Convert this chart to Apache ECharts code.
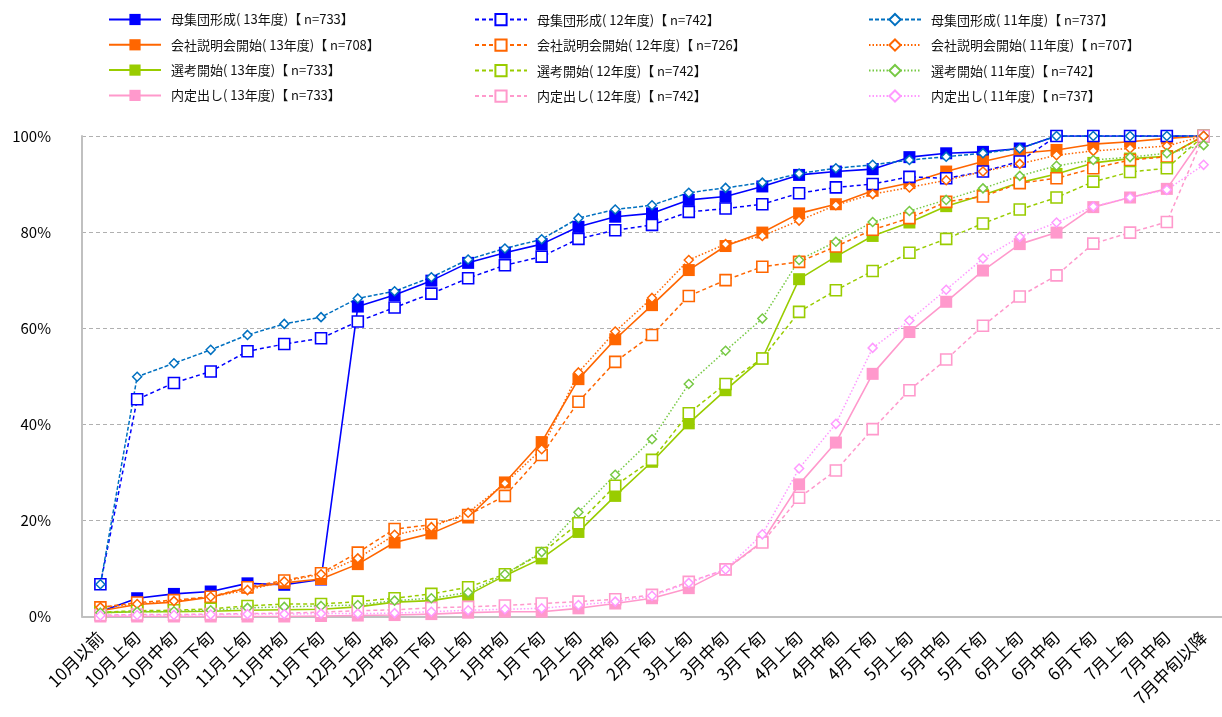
<!DOCTYPE html>
<html><head><meta charset="utf-8">
<script src="https://cdn.jsdelivr.net/npm/echarts@6/dist/echarts.min.js"></script>
<style>html,body{margin:0;padding:0;background:#fff}#c{width:1222px;height:717px}</style>
</head><body><div id="c"></div>
<script>
const categories = ['10月以前','10月上旬','10月中旬','10月下旬','11月上旬','11月中旬','11月下旬','12月上旬','12月中旬','12月下旬','1月上旬','1月中旬','1月下旬','2月上旬','2月中旬','2月下旬','3月上旬','3月中旬','3月下旬','4月上旬','4月中旬','4月下旬','5月上旬','5月中旬','5月下旬','6月上旬','6月中旬','6月下旬','7月上旬','7月中旬','7月中旬以降'];

const boshu13 = [1.0,3.8,4.7,5.2,6.9,6.6,7.7,64.5,66.9,69.9,73.6,75.7,77.5,81.1,83.2,83.9,86.7,87.4,89.5,91.9,92.6,93.1,95.6,96.4,96.7,97.4,100,100,100,100,100];
const boshu12 = [6.7,45.2,48.6,51.0,55.2,56.7,57.9,61.4,64.3,67.2,70.4,73.1,74.9,78.6,80.4,81.5,84.2,84.9,85.8,88.1,89.3,90.0,91.5,91.2,92.6,94.7,100,100,100,100,100];
const boshu11 = [6.7,49.9,52.7,55.5,58.6,60.9,62.3,66.2,67.7,70.6,74.3,76.6,78.5,82.9,84.7,85.6,88.2,89.2,90.3,92.2,93.3,94.0,95.0,95.7,96.4,97.4,100,100,100,100,100];

const setsu13 = [1.2,2.5,3.0,4.0,6.0,7.0,7.8,10.9,15.4,17.3,20.6,27.9,36.3,49.4,57.7,64.8,72.1,77.1,79.9,83.9,85.8,88.6,90.2,92.6,94.7,96.4,97.1,98.3,98.8,99.5,100];
const setsu12 = [1.9,2.9,3.4,4.1,6.1,7.5,9.0,13.3,18.2,19.1,21.1,25.1,33.6,44.7,53.0,58.6,66.7,70.0,72.8,73.8,77.0,80.5,82.9,86.3,87.4,90.2,91.2,93.3,95.0,95.7,100];
const setsu11 = [1.9,2.6,3.2,4.1,5.5,7.3,8.8,12.1,17.0,18.6,21.6,27.7,34.8,50.8,59.3,66.3,74.2,77.5,79.2,82.4,85.6,87.9,89.3,90.8,92.6,94.2,96.0,96.9,97.4,97.9,100];

const senko13 = [0.8,1.0,1.0,1.1,1.3,1.4,1.5,2.0,3.0,3.3,4.5,8.5,12.1,17.6,25.1,32.2,40.2,47.1,53.7,70.2,74.9,79.2,82.0,85.4,87.7,90.3,92.1,94.4,95.3,95.8,100];
const senko12 = [0.9,1.2,1.3,1.6,2.2,2.6,2.6,3.1,3.8,4.7,6.1,8.8,13.2,19.4,27.2,32.6,42.3,48.4,53.7,63.4,67.9,71.9,75.7,78.6,81.8,84.7,87.2,90.5,92.5,93.3,100];
const senko11 = [0.8,1.0,1.1,1.3,1.8,2.0,2.2,2.4,3.3,3.8,5.0,8.8,13.4,21.7,29.5,36.9,48.4,55.3,62.0,74.2,78.0,82.1,84.4,86.7,89.1,91.7,93.8,95.0,95.6,96.4,98.1];

const naitei13 = [0,0,0,0,0,0,0.1,0.2,0.3,0.5,0.8,1.0,1.0,1.7,2.7,3.8,5.9,9.8,15.6,27.5,36.2,50.5,59.2,65.5,72.0,77.5,79.9,85.2,87.2,89.0,100];
const naitei12 = [0.3,0.4,0.4,0.5,0.6,0.7,0.9,1.2,1.4,1.8,2.0,2.3,2.7,3.1,3.6,4.5,7.2,9.8,15.4,24.7,30.4,39.0,47.1,53.5,60.5,66.6,71.0,77.6,79.9,82.1,100];
const naitei11 = [0.2,0.3,0.3,0.4,0.5,0.5,0.6,0.6,0.7,1.0,1.3,1.5,1.7,2.4,3.1,4.3,7.0,9.8,17.1,30.8,40.1,55.9,61.6,68.0,74.5,79.0,82.0,85.3,87.2,88.8,94.0];

const yTicks = [0,20,40,60,80,100];

const names13 = ['母集団形成( 13年度)【 n=733】','会社説明会開始( 13年度)【 n=708】','選考開始( 13年度)【 n=733】','内定出し( 13年度)【 n=733】'];
const names12 = ['母集団形成( 12年度)【 n=742】','会社説明会開始( 12年度)【 n=726】','選考開始( 12年度)【 n=742】','内定出し( 12年度)【 n=742】'];
const names11 = ['母集団形成( 11年度)【 n=737】','会社説明会開始( 11年度)【 n=707】','選考開始( 11年度)【 n=742】','内定出し( 11年度)【 n=737】'];

const data13 = [boshu13, setsu13, senko13, naitei13];
const data12 = [boshu12, setsu12, senko12, naitei12];
const data11 = [boshu11, setsu11, senko11, naitei11];

const col13 = ['#0000FF','#FF6600','#99CC00','#FF99CC'];
const col12 = ['#0000FF','#FF6600','#99CC00','#FF99CC'];
const col11 = ['#0070C0','#FF6600','#77C944','#FF99FF'];
const dash11 = [[4,2],[1.5,2],[1.5,2],[1.5,2]];

const series = [];
for (let k = 0; k < 4; k++) {
  series.push({
    name: names13[k], type: 'line', data: data13[k],
    symbol: 'rect', symbolSize: 12,
    lineStyle: {color: col13[k], width: 1.6, type: 'solid'},
    itemStyle: {color: col13[k], borderColor: col13[k], borderWidth: 0},
    emphasis: {disabled: true}
  });
}
for (let k = 0; k < 4; k++) {
  series.push({
    name: names12[k], type: 'line', data: data12[k],
    symbol: 'rect', symbolSize: 11,
    lineStyle: {color: col12[k], width: 1.5, type: [4,3]},
    itemStyle: {color: '#fff', borderColor: col12[k], borderWidth: 1.6},
    emphasis: {disabled: true}
  });
}
for (let k = 0; k < 4; k++) {
  series.push({
    name: names11[k], type: 'line', data: data11[k],
    symbol: 'diamond', symbolSize: 9,
    lineStyle: {color: col11[k], width: 1.5, type: dash11[k]},
    itemStyle: {color: '#fff', borderColor: col11[k], borderWidth: 1.5},
    emphasis: {disabled: true}
  });
}

const legendBase = {
  orient: 'vertical', top: 13, padding: 0, itemWidth: 52, itemHeight: 14, itemGap: 12.3,
  textStyle: {fontFamily: 'Noto Sans CJK JP', fontSize: 13, color: '#111', padding: [0,0,0,5]},
  selectedMode: false
};

const chart = echarts.init(document.getElementById('c'), null, {renderer: 'canvas'});
chart.setOption({
  animation: false,
  backgroundColor: '#fff',
  textStyle: {fontFamily: 'Noto Sans CJK JP'},
  legend: [
    Object.assign({}, legendBase, {left: 108, data: names13}),
    Object.assign({}, legendBase, {left: 474, data: names12}),
    Object.assign({}, legendBase, {left: 868, data: names11})
  ],
  grid: {left: 82, top: 136, width: 1146, bottom: 100.5, containLabel: false},
  xAxis: {
    type: 'category', data: categories, boundaryGap: true,
    axisLine: {lineStyle: {color: '#c0c0c0', width: 2}},
    axisTick: {inside: true, length: 5, lineStyle: {color: '#c0c0c0'}},
    axisLabel: {rotate: 45, fontSize: 17, color: '#000', margin: 18, interval: 0, fontFamily: 'Noto Sans CJK JP'},
    splitLine: {show: false}
  },
  yAxis: {
    type: 'value', min: yTicks[0], max: yTicks[yTicks.length-1], interval: 20,
    axisLine: {show: true, lineStyle: {color: '#c0c0c0', width: 2}},
    axisTick: {show: false},
    axisLabel: {formatter: '{value}%', fontSize: 15, color: '#000', margin: 31, fontFamily: 'Noto Sans CJK JP'},
    splitLine: {show: true, lineStyle: {color: '#b0b0b0', type: [4,3], width: 1}}
  },
  series: series
});
</script>
</body></html>
